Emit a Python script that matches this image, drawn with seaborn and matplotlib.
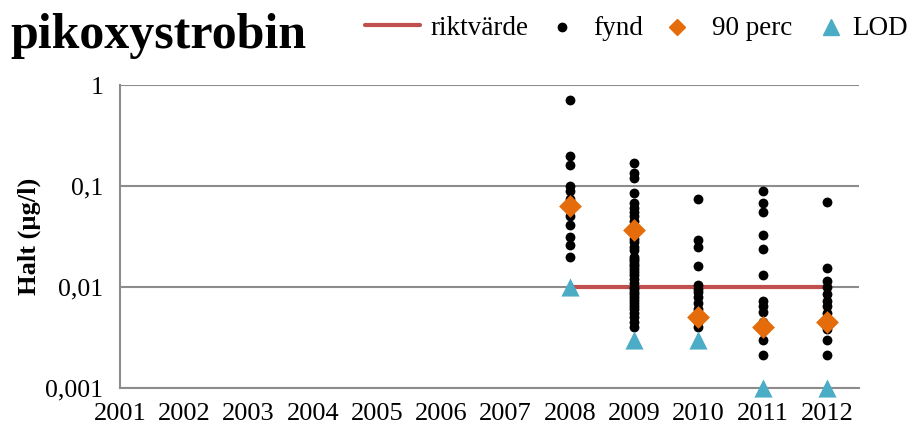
import numpy as np
import pandas as pd
import matplotlib
matplotlib.use("Agg")
import matplotlib.pyplot as plt
import seaborn as sns
from matplotlib.lines import Line2D
from matplotlib.ticker import FixedLocator, NullLocator

# Individual findings (µg/l) per year
fynd_2008 = [0.71, 0.20, 0.16, 0.10, 0.09, 0.075, 0.05, 0.041, 0.031, 0.026, 0.020]
fynd_2009 = [0.17, 0.135, 0.12, 0.085, 0.068, 0.06, 0.055, 0.05, 0.045, 0.04,
             0.035, 0.03, 0.028, 0.025, 0.023, 0.02, 0.019, 0.018, 0.017, 0.016,
             0.015, 0.014, 0.013, 0.012, 0.011, 0.01, 0.0095, 0.009, 0.0085,
             0.008, 0.0075, 0.007, 0.0065, 0.006, 0.0055, 0.005, 0.0045, 0.004]
fynd_2010 = [0.075, 0.029, 0.025, 0.016, 0.0105, 0.0095, 0.009, 0.008, 0.007,
             0.006, 0.0045, 0.004]
fynd_2011 = [0.09, 0.068, 0.055, 0.033, 0.024, 0.013, 0.0073, 0.0065, 0.0056,
             0.0045, 0.003, 0.0021]
fynd_2012 = [0.07, 0.0155, 0.0114, 0.01, 0.0085, 0.0073, 0.0065, 0.0055, 0.0038,
             0.003, 0.0021]

years = [2008, 2009, 2010, 2011, 2012]
perc90 = [0.063, 0.037, 0.005, 0.004, 0.0045]
lod = [0.01, 0.003, 0.003, 0.001, 0.001]
riktvarde = [0.01, 0.01, 0.01, 0.01, 0.01]

x_ticks = list(range(2001, 2013))
y_ticks = [0.001, 0.01, 0.1, 1]
y_labels = ["0,001", "0,01", "0,1", "1"]

fynd = pd.DataFrame(
    [(y, v) for y, vals in zip(years, [fynd_2008, fynd_2009, fynd_2010, fynd_2011, fynd_2012])
     for v in vals],
    columns=["year", "halt"],
)
summary = pd.DataFrame({"year": years, "perc90": perc90, "lod": lod, "rikt": riktvarde})

sns.set_theme(style="white")
plt.rcParams["font.family"] = ["Liberation Serif", "DejaVu Serif"]
plt.rcParams["text.color"] = "black"
plt.rcParams["axes.labelcolor"] = "black"

RED = "#C0504D"
ORANGE = "#E46C0A"
BLUE = "#4BACC6"
GRID = "#8C8C8C"

fig = plt.figure(figsize=(9.09, 4.30), dpi=100)
ax = fig.add_axes([0.132, 0.0977, 0.813, 0.7046])

ax.set_yscale("log")
ax.set_ylim(0.001, 1)
ax.set_xlim(2001, 2012.5)

sns.lineplot(data=summary, x="year", y="rikt", ax=ax, color=RED, linewidth=3.0,
             zorder=2, legend=False)
sns.scatterplot(data=fynd, x="year", y="halt", ax=ax, color="black", s=50,
                linewidth=0, zorder=3, legend=False)
sns.scatterplot(data=summary, x="year", y="perc90", ax=ax, color=ORANGE, marker="D",
                s=135, linewidth=0, zorder=4, legend=False)
sns.scatterplot(data=summary, x="year", y="lod", ax=ax, color=BLUE, marker="^",
                s=170, linewidth=0, zorder=5, legend=False, clip_on=False)

ax.yaxis.set_major_locator(FixedLocator(y_ticks))
ax.yaxis.set_minor_locator(NullLocator())
ax.set_yticklabels(y_labels)
ax.set_xticks(x_ticks)
ax.set_xticklabels([str(t) for t in x_ticks])

ax.grid(axis="y", color=GRID, linewidth=1.5, zorder=0)
ax.grid(axis="x", visible=False)
ax.set_axisbelow(True)
for side in ["top", "right"]:
    ax.spines[side].set_visible(False)
for side in ["left", "bottom"]:
    ax.spines[side].set_color(GRID)
    ax.spines[side].set_linewidth(1.5)

ax.tick_params(axis="both", which="major", labelsize=19, labelcolor="black",
               direction="out", length=6, width=1.5, color=GRID)
ax.tick_params(axis="x", pad=5)
ax.tick_params(axis="y", pad=6, labelsize=18.5)

ax.set_xlabel("")
ax.set_ylabel("Halt (µg/l)", fontsize=19, fontweight="bold", labelpad=3,
              color="black")

fig.text(0.011, 0.888, "pikoxystrobin", fontsize=36, fontweight="bold",
         ha="left", va="baseline", color="black")

# Legend row drawn in figure coordinates
def px(x):
    return x / 909.0

leg_y_marker = 1 - 27 / 430.0
leg_y_text = 1 - 35 / 430.0
fig.add_artist(Line2D([px(365), px(420)], [1 - 25 / 430.0] * 2, color=RED,
                      linewidth=3.0, solid_capstyle="round", transform=fig.transFigure))
fig.add_artist(Line2D([px(562)], [leg_y_marker], color="black", marker="o",
                      markersize=6, linestyle="none", transform=fig.transFigure))
fig.add_artist(Line2D([px(677)], [leg_y_marker], color=ORANGE, marker="D",
                      markersize=8.5, linestyle="none", transform=fig.transFigure))
fig.add_artist(Line2D([px(831)], [leg_y_marker], color=BLUE, marker="^",
                      markersize=11, linestyle="none", transform=fig.transFigure))
for xp, lab in [(430, "riktvärde"), (593, "fynd"), (712, "90 perc"), (852, "LOD")]:
    fig.text(px(xp), leg_y_text, lab, fontsize=19.5, ha="left", va="baseline",
             color="black")

fig.savefig("out.png", dpi=100)
